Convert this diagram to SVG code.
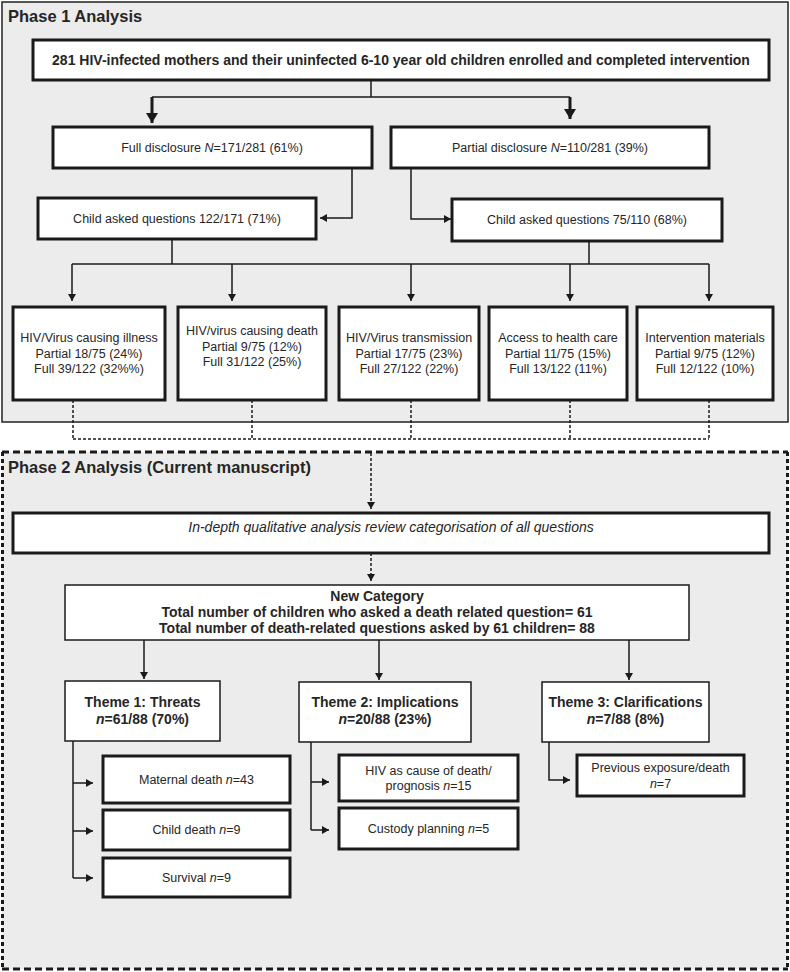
<svg xmlns="http://www.w3.org/2000/svg" width="790" height="972" viewBox="0 0 790 972">
<style>
text{font-family:"Liberation Sans",Arial,sans-serif;fill:#262626;font-size:12.5px;text-anchor:middle}
.b{font-weight:bold;font-size:14px}
.t{font-weight:bold;font-size:16.5px;text-anchor:start}
.i{font-style:italic}
.thick{fill:#fff;stroke:#1a1a1a;stroke-width:3}
.thin{fill:#fff;stroke:#1a1a1a;stroke-width:1.5}
.c{fill:none;stroke:#1a1a1a;stroke-width:1.5}
.cb{fill:none;stroke:#1a1a1a;stroke-width:3}
.d{fill:none;stroke:#1a1a1a;stroke-width:1.5;stroke-dasharray:3 2}
</style>
<defs>
<marker id="a" markerUnits="userSpaceOnUse" markerWidth="8" markerHeight="8" refX="7" refY="4" orient="auto"><path d="M0,0 L7,4 L0,8 z" fill="#1a1a1a"/></marker>
<marker id="ab" markerUnits="userSpaceOnUse" markerWidth="12" markerHeight="12" refX="10" refY="6" orient="auto"><path d="M0,0 L10,6 L0,12 z" fill="#1a1a1a"/></marker>
</defs>
<rect width="790" height="972" fill="#fff"/>
<g id="phase1">
<rect x="2" y="2" width="786" height="420" fill="#ececec" stroke="#222" stroke-width="1.5"/>
<text class="t" x="8" y="22">Phase 1 Analysis</text>
</g>
<g id="phase2">
<rect x="2" y="452" width="786" height="517" fill="#ececec"/>
<line x1="2" y1="452" x2="788" y2="452" stroke="#1a1a1a" stroke-width="3" stroke-dasharray="7 4"/>
<line x1="2" y1="969" x2="788" y2="969" stroke="#1a1a1a" stroke-width="3" stroke-dasharray="7 4"/>
<line x1="2.5" y1="452" x2="2.5" y2="969" stroke="#1a1a1a" stroke-width="3" stroke-dasharray="4 3"/>
<line x1="787.5" y1="452" x2="787.5" y2="969" stroke="#1a1a1a" stroke-width="3" stroke-dasharray="4 3"/>
<text class="t" x="8" y="473">Phase 2 Analysis (Current manuscript)</text>
</g>
<g id="connectors">
<path class="c" d="M371,80 V97 M152,97 H570"/>
<path class="cb" d="M152,97 V123" marker-end="url(#ab)"/>
<path class="cb" d="M570,97 V119" marker-end="url(#ab)"/>
<path class="c" d="M352,168 V218 H320" marker-end="url(#a)"/>
<path class="c" d="M411,168 V219 H451" marker-end="url(#a)"/>
<path class="c" d="M172,239 V264 M589,241 V264 M72,264 H709"/>
<path class="c" d="M72,264 V301" marker-end="url(#a)"/>
<path class="c" d="M232,264 V301" marker-end="url(#a)"/>
<path class="c" d="M411,264 V301" marker-end="url(#a)"/>
<path class="c" d="M570,264 V301" marker-end="url(#a)"/>
<path class="c" d="M709,264 V301" marker-end="url(#a)"/>
<path class="d" d="M73,400 V439 M252,400 V439 M411,400 V439 M570,400 V439 M709,400 V439 M73,439 H709"/>
<path class="d" d="M371,453 V509" marker-end="url(#a)"/>
<path class="d" d="M371,553 V581" marker-end="url(#a)"/>
<path class="c" d="M144,640 V679" marker-end="url(#a)"/>
<path class="c" d="M379,640 V680" marker-end="url(#a)"/>
<path class="c" d="M629,640 V680" marker-end="url(#a)"/>
<path class="c" d="M73,741 V878"/>
<path class="c" d="M73,783 H93" marker-end="url(#a)"/>
<path class="c" d="M73,831 H93" marker-end="url(#a)"/>
<path class="c" d="M73,878 H93" marker-end="url(#a)"/>
<path class="c" d="M311,742 V830"/>
<path class="c" d="M311,782 H329" marker-end="url(#a)"/>
<path class="c" d="M311,830 H329" marker-end="url(#a)"/>
<path class="c" d="M549,742 V780 H570" marker-end="url(#a)"/>
</g>
<g id="n-top"><rect class="thick" x="33" y="40" width="736" height="40"/><text class="b" x="401" y="65">281 HIV-infected mothers and their uninfected 6-10 year old children enrolled and completed intervention</text></g>
<g id="n-full"><rect class="thick" x="53" y="127" width="319" height="41"/><text x="212" y="152">Full disclosure <tspan class="i">N</tspan>=171/281 (61%)</text></g>
<g id="n-partial"><rect class="thick" x="391" y="127" width="318" height="41"/><text x="550" y="152">Partial disclosure <tspan class="i">N</tspan>=110/281 (39%)</text></g>
<g id="n-child122"><rect class="thick" x="38" y="198" width="278" height="41"/><text x="177" y="222.5">Child asked questions 122/171 (71%)</text></g>
<g id="n-child75"><rect class="thick" x="452" y="199" width="270" height="42"/><text x="587" y="223.5">Child asked questions 75/110 (68%)</text></g>
<g id="n-illness"><rect class="thick" x="13" y="307" width="152" height="93"/><text x="89" y="342">HIV/Virus causing illness</text><text x="89" y="358">Partial 18/75 (24%)</text><text x="89" y="373">Full 39/122 (32%%)</text></g>
<g id="n-death"><rect class="thick" x="178" y="307" width="148" height="93"/><text x="252" y="335">HIV/virus causing death</text><text x="252" y="351">Partial 9/75 (12%)</text><text x="252" y="366">Full 31/122 (25%)</text></g>
<g id="n-trans"><rect class="thick" x="339" y="307" width="140" height="93"/><text x="409" y="342">HIV/Virus transmission</text><text x="409" y="358">Partial 17/75 (23%)</text><text x="409" y="373">Full 27/122 (22%)</text></g>
<g id="n-access"><rect class="thick" x="489" y="307" width="138" height="93"/><text x="558" y="342">Access to health care</text><text x="558" y="358">Partial 11/75 (15%)</text><text x="558" y="373">Full 13/122 (11%)</text></g>
<g id="n-materials"><rect class="thick" x="637" y="307" width="136" height="93"/><text x="705" y="342">Intervention materials</text><text x="705" y="358">Partial 9/75 (12%)</text><text x="705" y="373">Full 12/122 (10%)</text></g>
<g id="n-indepth"><rect class="thick" x="13" y="513" width="756" height="40"/><text class="i" style="font-size:14px" x="391" y="532">In-depth qualitative analysis review categorisation of all questions</text></g>
<g id="n-newcat"><rect class="thin" x="65" y="585" width="624" height="55"/><text class="b" x="377" y="601">New Category</text><text class="b" x="377" y="617">Total number of children who asked a death related question= 61</text><text class="b" x="377" y="633">Total number of death-related questions asked by 61 children= 88</text></g>
<g id="n-theme1"><rect class="thin" x="65" y="681" width="155" height="60"/><text class="b" x="142.5" y="707">Theme 1: Threats</text><text class="b" x="142.5" y="724"><tspan class="i">n</tspan>=61/88 (70%)</text></g>
<g id="n-theme2"><rect class="thin" x="299" y="682" width="172" height="60"/><text class="b" x="385" y="707">Theme 2: Implications</text><text class="b" x="385" y="724"><tspan class="i">n</tspan>=20/88 (23%)</text></g>
<g id="n-theme3"><rect class="thin" x="542" y="682" width="167" height="60"/><text class="b" x="625.5" y="707">Theme 3: Clarifications</text><text class="b" x="625.5" y="724"><tspan class="i">n</tspan>=7/88 (8%)</text></g>
<g id="n-maternal"><rect class="thick" x="103" y="756" width="187" height="47"/><text x="196.5" y="784">Maternal death <tspan class="i">n</tspan>=43</text></g>
<g id="n-childdeath"><rect class="thick" x="103" y="810" width="187" height="40"/><text x="196.5" y="833.5">Child death <tspan class="i">n</tspan>=9</text></g>
<g id="n-survival"><rect class="thick" x="103" y="858" width="187" height="39"/><text x="196.5" y="881.5">Survival <tspan class="i">n</tspan>=9</text></g>
<g id="n-hivcause"><rect class="thick" x="339" y="755" width="179" height="46"/><text x="428.5" y="774.5">HIV as cause of death/</text><text x="428.5" y="789.5">prognosis <tspan class="i">n</tspan>=15</text></g>
<g id="n-custody"><rect class="thick" x="339" y="808" width="179" height="41"/><text x="428.5" y="832.5">Custody planning <tspan class="i">n</tspan>=5</text></g>
<g id="n-previous"><rect class="thick" x="577" y="755" width="167" height="41"/><text x="660.5" y="771.5">Previous exposure/death</text><text x="660.5" y="787.5"><tspan class="i">n</tspan>=7</text></g>
</svg>
